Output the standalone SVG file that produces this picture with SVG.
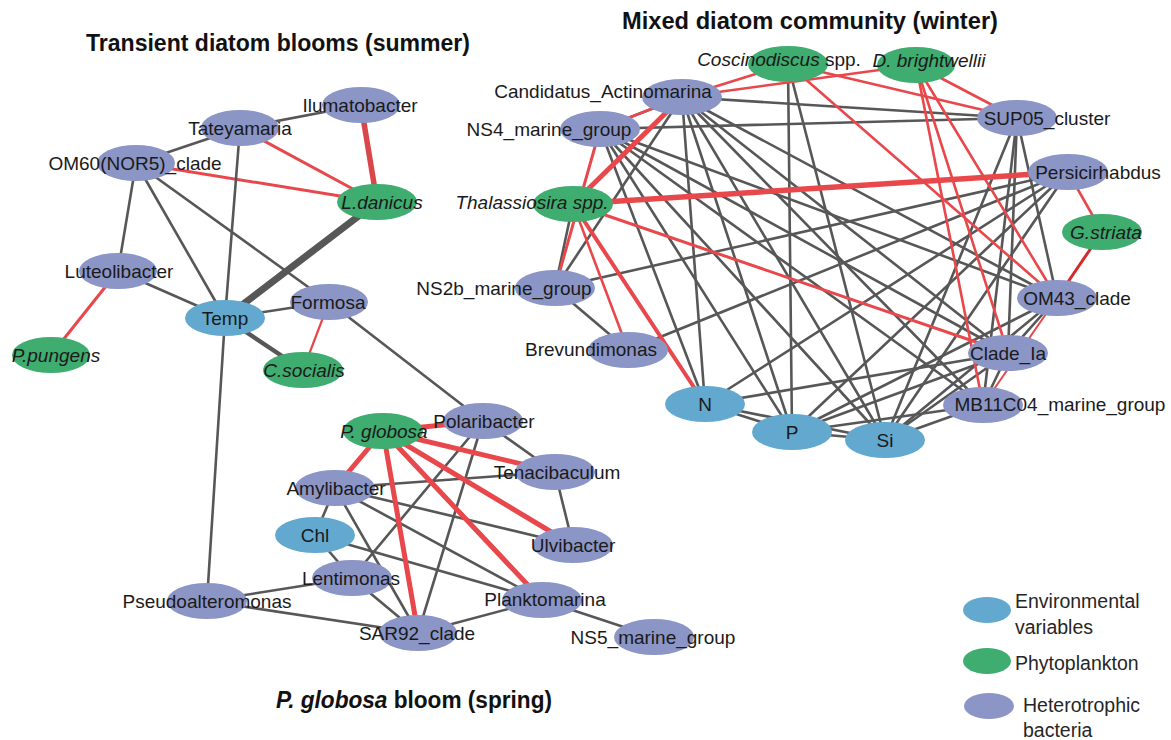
<svg xmlns="http://www.w3.org/2000/svg" width="1171" height="740" viewBox="0 0 1171 740">
<style>
.bg{fill:#ffffff}
.g{stroke:#575757;stroke-width:2.6;stroke-linecap:round}
.r{stroke:#e8484b;stroke-width:2.6;stroke-linecap:round}
.bac{fill:#8b95c6}
.phy{fill:#3fac70}
.env{fill:#63a9cf}
.lbl{font-family:"Liberation Sans",Arial,sans-serif;font-size:19px;fill:#1a1a1a;text-anchor:middle}
.it{font-style:italic}
.ttl{font-family:"Liberation Sans",Arial,sans-serif;font-size:23px;font-weight:bold;fill:#111}
.leg{font-family:"Liberation Sans",Arial,sans-serif;font-size:19.5px;fill:#262626}
</style>
<rect class="bg" x="0" y="0" width="1171" height="740"/>
<g id="titles">
<text class="ttl" x="86" y="51" textLength="384" lengthAdjust="spacingAndGlyphs">Transient diatom blooms (summer)</text>
<text class="ttl" x="622" y="29" textLength="376" lengthAdjust="spacingAndGlyphs">Mixed diatom community (winter)</text>
<text class="ttl" x="276" y="708" textLength="276" lengthAdjust="spacingAndGlyphs"><tspan font-style="italic">P. globosa</tspan> bloom (spring)</text>
</g>
<g id="connectors">
<!-- summer -->
<line class="g" x1="240" y1="128" x2="361" y2="105"/>
<line class="g" x1="136" y1="163" x2="240" y2="128"/>
<line class="r" x1="361" y1="105" x2="377" y2="202" style="stroke-width:5.5;stroke:#d9474b"/>
<line class="r" x1="240" y1="128" x2="377" y2="202" style="stroke-width:3"/>
<line class="r" x1="136" y1="163" x2="377" y2="202" style="stroke-width:3"/>
<line class="g" x1="136" y1="163" x2="118" y2="271"/>
<line class="g" x1="136" y1="163" x2="225" y2="318"/>
<line class="g" x1="136" y1="163" x2="329" y2="302"/>
<line class="g" x1="240" y1="128" x2="225" y2="318"/>
<line class="g" x1="225" y1="318" x2="377" y2="202" style="stroke-width:7"/>
<line class="g" x1="118" y1="271" x2="225" y2="318"/>
<line class="r" x1="118" y1="271" x2="51" y2="355" style="stroke-width:3"/>
<line class="g" x1="225" y1="318" x2="329" y2="302"/>
<line class="r" x1="329" y1="302" x2="303" y2="370" style="stroke-width:2.2"/>
<line class="g" x1="225" y1="318" x2="303" y2="370" style="stroke-width:4.5"/>
<line class="g" x1="225" y1="318" x2="207" y2="601"/>
<line class="g" x1="329" y1="302" x2="483" y2="421"/>
<!-- spring -->
<line class="g" x1="483" y1="421" x2="555" y2="472"/>
<line class="g" x1="483" y1="421" x2="352" y2="578"/>
<line class="g" x1="483" y1="421" x2="418" y2="633"/>
<line class="g" x1="335" y1="488" x2="555" y2="472"/>
<line class="g" x1="555" y1="472" x2="573" y2="545"/>
<line class="g" x1="335" y1="488" x2="573" y2="545"/>
<line class="g" x1="335" y1="488" x2="542" y2="600"/>
<line class="g" x1="335" y1="488" x2="315" y2="535"/>
<line class="g" x1="335" y1="488" x2="418" y2="633"/>
<line class="g" x1="315" y1="535" x2="352" y2="578"/>
<line class="g" x1="315" y1="535" x2="542" y2="600"/>
<line class="g" x1="352" y1="578" x2="207" y2="601"/>
<line class="g" x1="352" y1="578" x2="418" y2="633"/>
<line class="g" x1="207" y1="601" x2="418" y2="633"/>
<line class="g" x1="418" y1="633" x2="542" y2="600"/>
<line class="g" x1="542" y1="600" x2="654" y2="637"/>
<line class="r" x1="383" y1="431" x2="483" y2="421" style="stroke-width:5"/>
<line class="r" x1="383" y1="431" x2="555" y2="472" style="stroke-width:5"/>
<line class="r" x1="383" y1="431" x2="335" y2="488" style="stroke-width:5"/>
<line class="r" x1="383" y1="431" x2="418" y2="633" style="stroke-width:5"/>
<line class="r" x1="383" y1="431" x2="542" y2="600" style="stroke-width:5"/>
<line class="r" x1="383" y1="431" x2="573" y2="545" style="stroke-width:5"/>
<!-- winter gray -->
<line class="g" x1="682" y1="97" x2="600" y2="129"/>
<line class="g" x1="682" y1="97" x2="1017" y2="118"/>
<line class="g" x1="682" y1="97" x2="705" y2="404"/>
<line class="g" x1="682" y1="97" x2="792" y2="432"/>
<line class="g" x1="682" y1="97" x2="885" y2="440"/>
<line class="g" x1="682" y1="97" x2="983" y2="405"/>
<line class="g" x1="682" y1="97" x2="1008" y2="353"/>
<line class="g" x1="682" y1="97" x2="1057" y2="298"/>
<line class="g" x1="682" y1="97" x2="555" y2="288"/>
<line class="g" x1="600" y1="129" x2="1017" y2="118"/>
<line class="g" x1="600" y1="129" x2="705" y2="404"/>
<line class="g" x1="600" y1="129" x2="792" y2="432"/>
<line class="g" x1="600" y1="129" x2="885" y2="440"/>
<line class="g" x1="600" y1="129" x2="983" y2="405"/>
<line class="g" x1="600" y1="129" x2="1008" y2="353"/>
<line class="g" x1="600" y1="129" x2="1057" y2="298"/>
<line class="g" x1="788" y1="64" x2="792" y2="432"/>
<line class="g" x1="788" y1="64" x2="885" y2="440"/>
<line class="g" x1="1017" y1="118" x2="885" y2="440"/>
<line class="g" x1="1017" y1="118" x2="983" y2="405"/>
<line class="g" x1="1017" y1="118" x2="1008" y2="353"/>
<line class="g" x1="1017" y1="118" x2="1057" y2="298"/>
<line class="g" x1="1068" y1="172" x2="555" y2="288"/>
<line class="g" x1="1068" y1="172" x2="628" y2="350"/>
<line class="g" x1="1068" y1="172" x2="705" y2="404"/>
<line class="g" x1="1068" y1="172" x2="792" y2="432"/>
<line class="g" x1="1068" y1="172" x2="885" y2="440"/>
<line class="g" x1="1057" y1="298" x2="792" y2="432"/>
<line class="g" x1="1057" y1="298" x2="885" y2="440"/>
<line class="g" x1="1057" y1="298" x2="1008" y2="353"/>
<line class="g" x1="1008" y1="353" x2="705" y2="404"/>
<line class="g" x1="1008" y1="353" x2="792" y2="432"/>
<line class="g" x1="1008" y1="353" x2="885" y2="440"/>
<line class="g" x1="1008" y1="353" x2="983" y2="405"/>
<line class="g" x1="983" y1="405" x2="885" y2="440"/>
<line class="g" x1="983" y1="405" x2="792" y2="432"/>
<line class="g" x1="705" y1="404" x2="792" y2="432"/>
<line class="g" x1="705" y1="404" x2="885" y2="440"/>
<line class="g" x1="792" y1="432" x2="885" y2="440"/>
<line class="g" x1="573" y1="204" x2="555" y2="288"/>
<line class="g" x1="555" y1="288" x2="628" y2="350"/>
<!-- winter red -->
<line class="r" x1="682" y1="97" x2="788" y2="64"/>
<line class="r" x1="682" y1="97" x2="916" y2="65"/>
<line class="r" x1="788" y1="64" x2="1017" y2="118"/>
<line class="r" x1="916" y1="65" x2="1017" y2="118"/>
<line class="r" x1="788" y1="64" x2="1057" y2="298"/>
<line class="r" x1="916" y1="65" x2="1057" y2="298"/>
<line class="r" x1="916" y1="65" x2="1008" y2="353"/>
<line class="r" x1="916" y1="65" x2="983" y2="405"/>
<line class="r" x1="573" y1="204" x2="682" y2="97" style="stroke-width:5"/>
<line class="r" x1="573" y1="204" x2="1068" y2="172" style="stroke-width:5.5"/>
<line class="r" x1="573" y1="204" x2="1008" y2="353" style="stroke-width:3"/>
<line class="r" x1="573" y1="204" x2="628" y2="350"/>
<line class="r" x1="573" y1="204" x2="705" y2="404" style="stroke-width:4"/>
<line class="r" x1="600" y1="129" x2="682" y2="97"/>
<line class="r" x1="600" y1="129" x2="555" y2="288" style="stroke-width:3"/>
<line class="r" x1="1068" y1="172" x2="1102" y2="232"/>
<line class="r" x1="1102" y1="232" x2="1057" y2="298" style="stroke-width:3;stroke:#d42a2a"/>
<line class="r" x1="1057" y1="298" x2="983" y2="405" style="stroke-width:2"/>
</g>
<!-- summer nodes -->
<g id="n-ilumatobacter"><ellipse class="bac" cx="361" cy="105" rx="39" ry="18"/><text class="lbl" x="360" y="112">Ilumatobacter</text></g>
<g id="n-tateyamaria"><ellipse class="bac" cx="240" cy="128" rx="39" ry="18"/><text class="lbl" x="240" y="135">Tateyamaria</text></g>
<g id="n-om60"><ellipse class="bac" cx="136" cy="163" rx="39" ry="18"/><text class="lbl" x="135" y="170">OM60(NOR5)_clade</text></g>
<g id="n-ldanicus"><ellipse class="phy" cx="377" cy="202" rx="40" ry="18"/><text class="lbl it" x="382" y="209">L.danicus</text></g>
<g id="n-luteolibacter"><ellipse class="bac" cx="118" cy="271" rx="39" ry="18"/><text class="lbl" x="119" y="278">Luteolibacter</text></g>
<g id="n-temp"><ellipse class="env" cx="225" cy="318" rx="40" ry="18"/><text class="lbl" x="225" y="325">Temp</text></g>
<g id="n-formosa"><ellipse class="bac" cx="329" cy="302" rx="39" ry="18"/><text class="lbl" x="328" y="309">Formosa</text></g>
<g id="n-ppungens"><ellipse class="phy" cx="51" cy="355" rx="39" ry="18"/><text class="lbl it" x="56" y="362">P.pungens</text></g>
<g id="n-csocialis"><ellipse class="phy" cx="303" cy="370" rx="40" ry="18"/><text class="lbl it" x="304" y="377">C.socialis</text></g>
<!-- spring nodes -->
<g id="n-pglobosa"><ellipse class="phy" cx="383" cy="431" rx="40" ry="18"/><text class="lbl it" x="384" y="438">P. globosa</text></g>
<g id="n-polaribacter"><ellipse class="bac" cx="483" cy="421" rx="40" ry="18"/><text class="lbl" x="484" y="428">Polaribacter</text></g>
<g id="n-tenacibaculum"><ellipse class="bac" cx="555" cy="472" rx="40" ry="18"/><text class="lbl" x="557" y="479">Tenacibaculum</text></g>
<g id="n-amylibacter"><ellipse class="bac" cx="335" cy="488" rx="40" ry="18"/><text class="lbl" x="336" y="495">Amylibacter</text></g>
<g id="n-chl"><ellipse class="env" cx="315" cy="535" rx="40" ry="18"/><text class="lbl" x="315" y="542">Chl</text></g>
<g id="n-ulvibacter"><ellipse class="bac" cx="573" cy="545" rx="40" ry="18"/><text class="lbl" x="573" y="552">Ulvibacter</text></g>
<g id="n-lentimonas"><ellipse class="bac" cx="352" cy="578" rx="40" ry="18"/><text class="lbl" x="351" y="585">Lentimonas</text></g>
<g id="n-pseudoalteromonas"><ellipse class="bac" cx="207" cy="601" rx="40" ry="18"/><text class="lbl" x="207" y="608">Pseudoalteromonas</text></g>
<g id="n-planktomarina"><ellipse class="bac" cx="542" cy="600" rx="40" ry="18"/><text class="lbl" x="545" y="606">Planktomarina</text></g>
<g id="n-sar92"><ellipse class="bac" cx="418" cy="633" rx="39" ry="18"/><text class="lbl" x="417" y="640">SAR92_clade</text></g>
<g id="n-ns5"><ellipse class="bac" cx="654" cy="637" rx="40" ry="18"/><text class="lbl" x="653" y="644">NS5_marine_group</text></g>
<!-- winter nodes -->
<g id="n-coscinodiscus"><ellipse class="phy" cx="788" cy="64" rx="40" ry="18"/><text class="lbl" x="779" y="66"><tspan class="it">Coscinodiscus</tspan> spp.</text></g>
<g id="n-dbrightwellii"><ellipse class="phy" cx="916" cy="65" rx="39" ry="18"/><text class="lbl it" x="929" y="67">D. brightwellii</text></g>
<g id="n-candidatus"><ellipse class="bac" cx="682" cy="97" rx="40" ry="18"/><text class="lbl" x="603" y="98">Candidatus_Actinomarina</text></g>
<g id="n-ns4"><ellipse class="bac" cx="600" cy="129" rx="40" ry="18"/><text class="lbl" x="549" y="136">NS4_marine_group</text></g>
<g id="n-sup05"><ellipse class="bac" cx="1017" cy="118" rx="40" ry="18"/><text class="lbl" x="1047" y="125">SUP05_cluster</text></g>
<g id="n-persicirhabdus"><ellipse class="bac" cx="1068" cy="172" rx="40" ry="18"/><text class="lbl" x="1098" y="179">Persicirhabdus</text></g>
<g id="n-thalassiosira"><ellipse class="phy" cx="573" cy="204" rx="40" ry="18"/><text class="lbl it" x="532" y="209">Thalassiosira spp.</text></g>
<g id="n-gstriata"><ellipse class="phy" cx="1102" cy="232" rx="40" ry="18"/><text class="lbl it" x="1106" y="239">G.striata</text></g>
<g id="n-ns2b"><ellipse class="bac" cx="555" cy="288" rx="40" ry="18"/><text class="lbl" x="504" y="295">NS2b_marine_group</text></g>
<g id="n-om43"><ellipse class="bac" cx="1057" cy="298" rx="40" ry="18"/><text class="lbl" x="1077" y="305">OM43_clade</text></g>
<g id="n-brevundimonas"><ellipse class="bac" cx="628" cy="350" rx="40" ry="18"/><text class="lbl" x="591" y="356">Brevundimonas</text></g>
<g id="n-cladeia"><ellipse class="bac" cx="1008" cy="353" rx="40" ry="18"/><text class="lbl" x="1008" y="360">Clade_Ia</text></g>
<g id="n-n"><ellipse class="env" cx="705" cy="404" rx="40" ry="18"/><text class="lbl" x="705" y="411">N</text></g>
<g id="n-mb11c04"><ellipse class="bac" cx="983" cy="405" rx="40" ry="18"/><text class="lbl" x="1060" y="411">MB11C04_marine_group</text></g>
<g id="n-p"><ellipse class="env" cx="792" cy="432" rx="40" ry="18"/><text class="lbl" x="792" y="439">P</text></g>
<g id="n-si"><ellipse class="env" cx="885" cy="440" rx="40" ry="18"/><text class="lbl" x="885" y="447">Si</text></g>
<!-- legend -->
<g id="legend">
<ellipse class="env" cx="987" cy="610" rx="24" ry="13"/>
<ellipse class="phy" cx="987" cy="661" rx="24" ry="13"/>
<ellipse class="bac" cx="989" cy="706" rx="25" ry="13"/>
<text class="leg" x="1015" y="608">Environmental</text>
<text class="leg" x="1015" y="634">variables</text>
<text class="leg" x="1015" y="670">Phytoplankton</text>
<text class="leg" x="1023" y="712">Heterotrophic</text>
<text class="leg" x="1023" y="737">bacteria</text>
</g>
</svg>
